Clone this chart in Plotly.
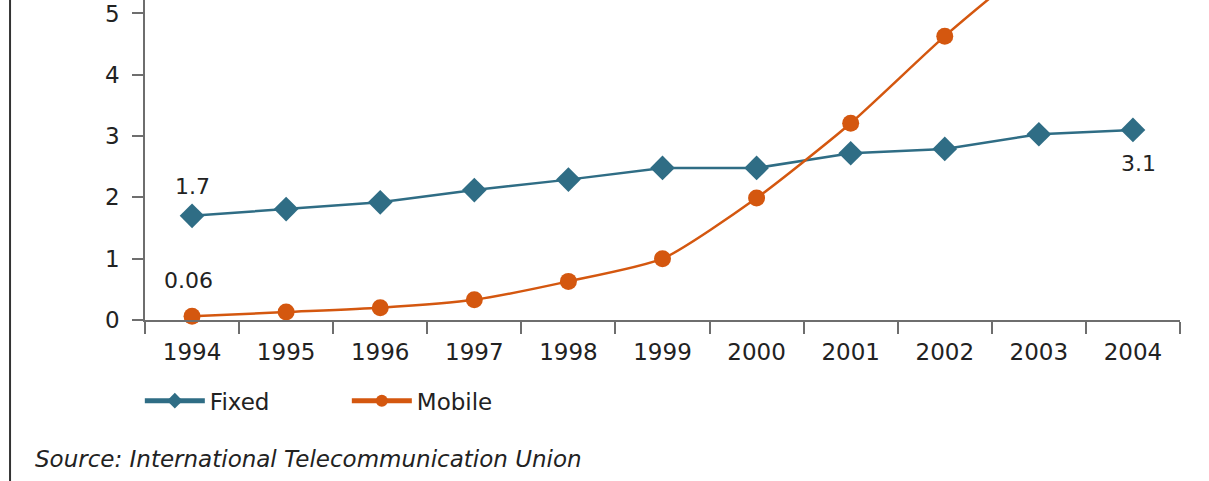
import plotly.graph_objects as go

years = ["1994", "1995", "1996", "1997", "1998", "1999",
         "2000", "2001", "2002", "2003", "2004"]
fixed = [1.7, 1.81, 1.92, 2.12, 2.29, 2.48, 2.48, 2.72, 2.79, 3.03, 3.1]
mobile = [0.06, 0.13, 0.2, 0.33, 0.63, 1.0, 1.99, 3.21, 4.63, 5.9, 7.1]
y_ticks = [0, 1, 2, 3, 4, 5]

FIXED_COLOR = "#2f6d85"
MOBILE_COLOR = "#d4570f"
FONT = "DejaVu Sans"
TEXT_COLOR = "#222222"
AXIS_COLOR = "#6e6e6e"

fig = go.Figure()

fig.add_trace(go.Scatter(
    x=years, y=fixed, name="Fixed", mode="lines+markers",
    line=dict(color=FIXED_COLOR, width=2.5),
    marker=dict(symbol="diamond", size=19, color=FIXED_COLOR),
    cliponaxis=False,
))
fig.add_trace(go.Scatter(
    x=years, y=mobile, name="Mobile", mode="lines+markers",
    line=dict(color=MOBILE_COLOR, width=2.5, shape="spline", smoothing=0.6),
    marker=dict(symbol="circle", size=17, color=MOBILE_COLOR),
    cliponaxis=False,
))

# value call-outs for first and last points (category index positions)
first, last = 0, len(years) - 1
fig.add_annotation(x=first, y=fixed[first], text=f"{fixed[first]}", showarrow=False,
                   yshift=29, xshift=0, font=dict(size=22, color=TEXT_COLOR, family=FONT))
fig.add_annotation(x=first, y=mobile[first], text=f"{mobile[first]}", showarrow=False,
                   yshift=36, xshift=-4, font=dict(size=22, color=TEXT_COLOR, family=FONT))
fig.add_annotation(x=last, y=fixed[last], text=f"{fixed[last]}", showarrow=False,
                   yshift=-34, xshift=6, font=dict(size=22, color=TEXT_COLOR, family=FONT))

# source note
fig.add_annotation(xref="paper", yref="paper", x=-0.108, y=-0.435,
                   xanchor="left", yanchor="middle", showarrow=False,
                   text="<i>Source: International Telecommunication Union</i>",
                   font=dict(size=23, color=TEXT_COLOR, family=FONT))

# left frame edge
fig.add_shape(type="line", xref="paper", yref="paper",
              x0=-0.1304, x1=-0.1304, y0=1.0, y1=-0.51,
              line=dict(color="#333333", width=2))

fig.update_layout(
    width=1209, height=481,
    margin=dict(l=145, r=29, t=0, b=161),
    paper_bgcolor="white", plot_bgcolor="white",
    font=dict(family=FONT, color=TEXT_COLOR, size=23),
    showlegend=True,
    legend=dict(orientation="h", x=-0.005, y=-0.185, xanchor="left", yanchor="top",
                itemwidth=60, entrywidth=132,
                font=dict(size=23, family=FONT, color=TEXT_COLOR),
                tracegroupgap=0, itemsizing="constant"),
    xaxis=dict(
        type="category", range=[-0.5, 10.5], tickson="boundaries",
        showline=True, linecolor=AXIS_COLOR, linewidth=1.5,
        ticks="outside", ticklen=12, tickcolor=AXIS_COLOR, tickwidth=1.5,
        showgrid=False, zeroline=False, ticklabelstandoff=11,
        tickfont=dict(size=23, color=TEXT_COLOR, family=FONT),
    ),
    yaxis=dict(
        range=[0, 5.22], tickvals=y_ticks,
        showline=True, linecolor=AXIS_COLOR, linewidth=1.5,
        ticks="outside", ticklen=11, tickcolor=AXIS_COLOR, tickwidth=1.5,
        showgrid=False, zeroline=False, ticklabelstandoff=8,
        tickfont=dict(size=23, color=TEXT_COLOR, family=FONT),
    ),
)

fig.write_html("out.html")
